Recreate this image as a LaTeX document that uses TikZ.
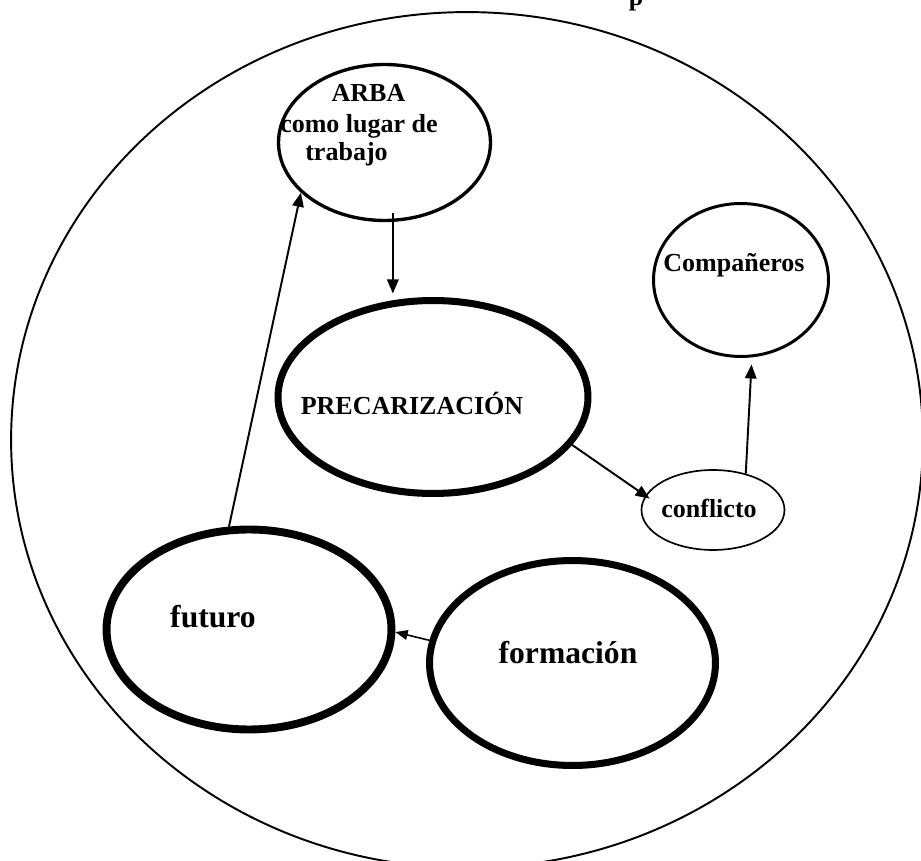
\documentclass[tikz,border=0pt]{standalone}
\usepackage{fontspec}
\setmainfont{Liberation Serif}
\usetikzlibrary{shapes.geometric,arrows.meta}
\tikzset{
  bub/.style={ellipse, draw, inner sep=0pt, fill=none},
  lbl/.style={anchor=base, inner sep=0pt, font=\bfseries\fontsize{14.8pt}{17pt}\selectfont},
  biglbl/.style={anchor=base, inner sep=0pt, font=\bfseries\fontsize{18pt}{21pt}\selectfont},
  arr/.style={line width=1.1pt, -{Triangle[length=8pt,width=6.5pt]}},
}
\begin{document}
\begin{tikzpicture}[x=0.02cm, y=-0.02cm]
\useasboundingbox (0,0) rectangle (921,861);
% outer frame
\node[bub, line width=1.1pt, minimum width=18.24cm, minimum height=17.12cm] (frame) at (467,440) {};
% partial title letter cut at top
\node[lbl] (ptitle) at (636,6) {p};
% bubbles
\node[bub, line width=1.9pt, minimum width=4.24cm, minimum height=3.12cm] (arba) at (384.5,142.5) {};
\node[bub, line width=1.7pt, minimum width=3.5cm, minimum height=3.06cm] (comp) at (741,280) {};
\node[bub, line width=4pt, minimum width=6.2cm, minimum height=3.86cm] (prec) at (433,397) {};
\node[bub, line width=0.95pt, minimum width=2.86cm, minimum height=1.6cm] (confl) at (713,510) {};
\node[bub, line width=4.5pt, minimum width=5.7cm, minimum height=4.0cm] (futuro) at (249,629.5) {};
\node[bub, line width=4pt, minimum width=5.72cm, minimum height=4.1cm] (formacion) at (572.5,663) {};
% texts
\node[lbl] (t1) at (368.5,102) {ARBA};
\node[lbl] (t2) at (359,133) {como lugar de};
\node[lbl] (t3) at (346.5,161) {trabajo};
\node[lbl] (t4) at (734,272) {Compañeros};
\node[lbl] (t5) at (412,415) {PRECARIZACIÓN};
\node[lbl] (t6) at (709,518) {conflicto};
\node[biglbl] (t7) at (213,628) {futuro};
\node[biglbl] (t8) at (568,664) {formación};
% connectors
\draw[arr] (futuro.101.5) -- (arba.211);
\draw[arr] ([yshift=5pt]arba.-84) -- ([yshift=2pt]arba.-84 |- prec.north);
\draw[arr, shorten >=-3pt] (prec.-19) -- (confl.168);
\draw[arr, shorten >=4pt] (confl.48.6) -- (comp.-82.6);
\draw[line width=0.9pt, -{Triangle[length=7pt,width=5.5pt]}] (formacion.171.7) -- (futuro.-1.4);
\end{tikzpicture}
\end{document}
